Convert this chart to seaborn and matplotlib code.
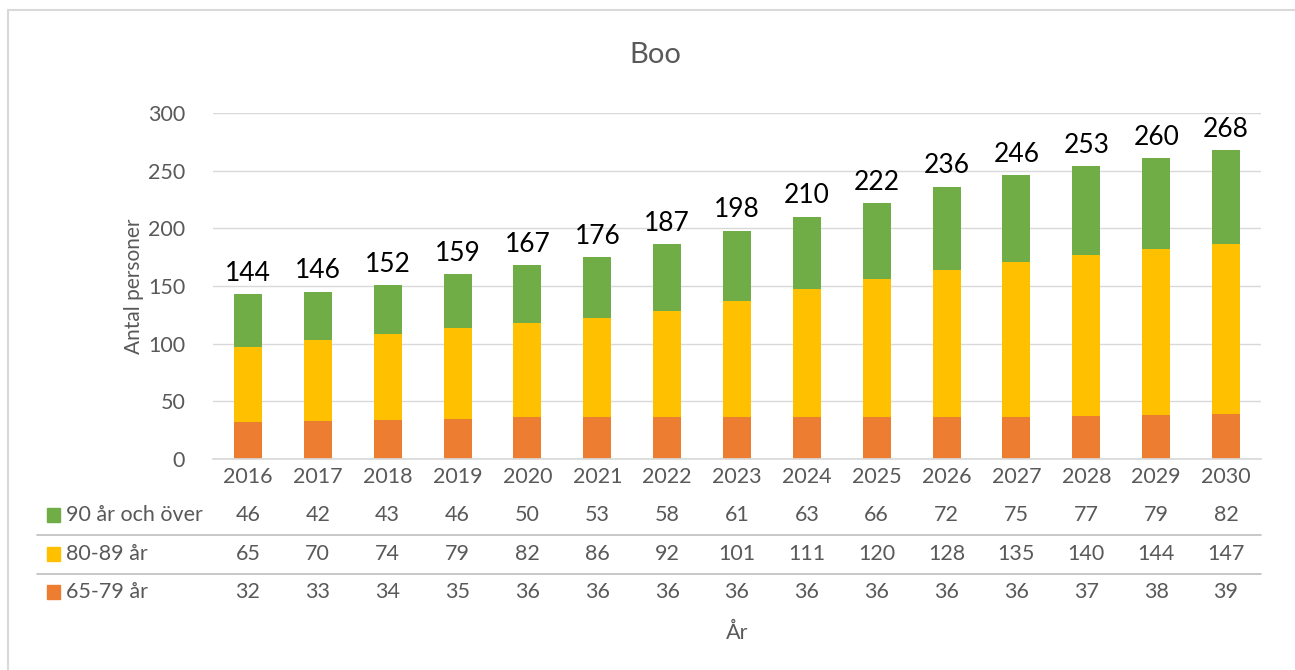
import numpy as np
import pandas as pd
import seaborn as sns
import matplotlib.pyplot as plt
from matplotlib.lines import Line2D
from matplotlib.patches import Rectangle
import matplotlib.transforms as mtransforms

sns.set_theme(style="white")
plt.rcParams['font.family'] = ['Lato', 'DejaVu Sans']

# Data
years = ["2016", "2017", "2018", "2019", "2020", "2021", "2022", "2023",
         "2024", "2025", "2026", "2027", "2028", "2029", "2030"]
age_90_plus = [46, 42, 43, 46, 50, 53, 58, 61, 63, 66, 72, 75, 77, 79, 82]
age_80_89 = [65, 70, 74, 79, 82, 86, 92, 101, 111, 120, 128, 135, 140, 144, 147]
age_65_79 = [32, 33, 34, 35, 36, 36, 36, 36, 36, 36, 36, 36, 37, 38, 39]
totals = [144, 146, 152, 159, 167, 176, 187, 198, 210, 222, 236, 246, 253, 260, 268]

series_names = ["90 år och över", "80-89 år", "65-79 år"]
colors = ["#70AD47", "#FFC000", "#ED7D31"]
grey = "#595959"

df = pd.DataFrame({"År": years, "g90": age_90_plus, "g80": age_80_89, "g65": age_65_79})
df["top"] = df["g65"] + df["g80"] + df["g90"]
df["mid"] = df["g65"] + df["g80"]

fig = plt.figure(figsize=(12.95, 6.7), dpi=100)
ax = fig.add_axes([213 / 1295, 1 - 459 / 670, (1261 - 213) / 1295, (459 - 113) / 670])

# Stacked bars drawn as overlapping cumulative bars
for col, c in zip(["top", "mid", "g65"], colors):
    sns.barplot(data=df, x="År", y=col, color=c, width=0.4, saturation=1,
                linewidth=0, ax=ax)

ax.set_ylim(0, 300)
ax.set_yticks(range(0, 301, 50))
ax.set_xlim(-0.5, len(years) - 0.5)
ax.yaxis.grid(True, color="#D9D9D9", linewidth=1)
ax.set_axisbelow(True)
for side in ["top", "right", "left"]:
    ax.spines[side].set_visible(False)
ax.spines["bottom"].set_color("#D9D9D9")
ax.tick_params(axis="both", length=0, labelsize=15.5, labelcolor=grey)
ax.tick_params(axis="y", pad=20)
ax.tick_params(axis="x", pad=6)
ax.set_xlabel("")
ax.set_ylabel("Antal personer", fontsize=15, color=grey, labelpad=3)

# Total labels above bars
for i, (t, h) in enumerate(zip(totals, df["top"])):
    ax.annotate(str(t), (i, h), xytext=(0, 6), textcoords="offset points",
                ha="center", va="bottom", fontsize=19, color="black")

fig.text(655 / 1295, 1 - 55 / 670, "Boo", ha="center", va="center", fontsize=21, color=grey)

# Data table under the chart
trans = mtransforms.blended_transform_factory(ax.transData, ax.transAxes)
ftrans = mtransforms.blended_transform_factory(fig.transFigure, ax.transAxes)
row_y = [-0.162, -0.275, -0.384]
rows = [age_90_plus, age_80_89, age_65_79]
for name, col, vals, y in zip(series_names, colors, rows, row_y):
    ax.add_artist(Rectangle((47 / 1295, y - 0.02), 13 / 1295, 0.04, transform=ftrans,
                            color=col, clip_on=False))
    ax.text(66 / 1295, y, name, transform=ftrans, ha="left", va="center",
            fontsize=15.5, color=grey)
    for i, v in enumerate(vals):
        ax.text(i, y, str(v), transform=trans, ha="center", va="center",
                fontsize=15.5, color=grey)

for y in [-0.2197, -0.332]:
    ax.add_artist(Line2D([37 / 1295, 1261 / 1295], [y, y], transform=ftrans,
                         color="#BFBFBF", linewidth=1.2, clip_on=False))

fig.text(737 / 1295, 1 - 633 / 670, "År", ha="center", va="center", fontsize=15.5, color=grey)

# Chart border (top and left edges visible)
fig.add_artist(Line2D([8 / 1295, 1], [1 - 10 / 670, 1 - 10 / 670], transform=fig.transFigure,
                      color="#D9D9D9", linewidth=1.5))
fig.add_artist(Line2D([8 / 1295, 8 / 1295], [0, 1 - 10 / 670], transform=fig.transFigure,
                      color="#D9D9D9", linewidth=1.5))

fig.savefig("out.png", dpi=100)
